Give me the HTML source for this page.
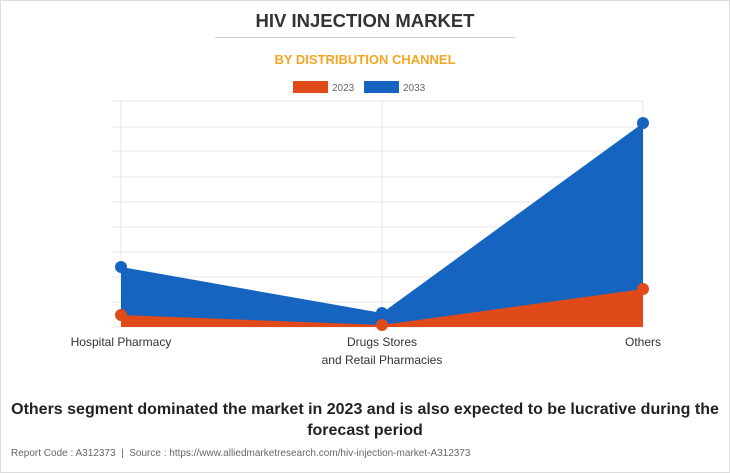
<!DOCTYPE html>
<html><head><meta charset="utf-8"><style>
body{margin:0;width:730px;height:473px;background:#fff;font-family:"Liberation Sans",sans-serif;position:relative;overflow:hidden}
.t{position:absolute;left:0;width:730px;text-align:center}
</style></head><body>
<div style="position:absolute;left:0;top:0;width:728px;height:471px;border:1px solid #ddd"></div>
<div class="t" style="top:10px;font-size:18.5px;font-weight:bold;color:#333">HIV INJECTION MARKET</div>
<div style="position:absolute;left:215px;top:37px;width:300px;height:1px;background:#ccc"></div>
<div class="t" style="top:52px;font-size:13px;font-weight:bold;color:#f5a623">BY DISTRIBUTION CHANNEL</div>
<svg width="730" height="473" style="position:absolute;left:0;top:0">
<rect x="293" y="81" width="35" height="12" fill="#e04a18"/>
<text x="332" y="91" font-size="10" fill="#666" font-family="Liberation Sans">2023</text>
<rect x="364" y="81" width="35" height="12" fill="#1565c0"/>
<text x="403" y="91" font-size="10" fill="#666" font-family="Liberation Sans">2033</text>
<g stroke="#e6e6e6" stroke-width="1">
<line x1="112" y1="101" x2="643" y2="101"/><line x1="112" y1="127" x2="643" y2="127"/>
<line x1="112" y1="151" x2="643" y2="151"/><line x1="112" y1="177" x2="643" y2="177"/>
<line x1="112" y1="202" x2="643" y2="202"/><line x1="112" y1="227" x2="643" y2="227"/>
<line x1="112" y1="252" x2="643" y2="252"/><line x1="112" y1="277" x2="643" y2="277"/>
<line x1="112" y1="302" x2="643" y2="302"/><line x1="112" y1="327" x2="643" y2="327"/>
<line x1="121" y1="101" x2="121" y2="327"/><line x1="382" y1="101" x2="382" y2="327"/><line x1="643" y1="101" x2="643" y2="327"/>
</g>
<polygon points="121,267 382,313 643,123 643,327 121,327" fill="#1565c0"/>
<polygon points="121,315 382,325 643,289 643,327 121,327" fill="#e04a18"/>
<g fill="#1565c0"><circle cx="121" cy="267" r="6"/><circle cx="382" cy="313" r="6"/><circle cx="643" cy="123" r="6"/></g>
<g fill="#e04a18"><circle cx="121" cy="315" r="6"/><circle cx="382" cy="325" r="6"/><circle cx="643" cy="289" r="6"/></g>
<g font-size="12" fill="#333" font-family="Liberation Sans" text-anchor="middle">
<text x="121" y="346">Hospital Pharmacy</text>
<text x="382" y="346">Drugs Stores</text>
<text x="382" y="364">and Retail Pharmacies</text>
<text x="643" y="346">Others</text>
</g>
</svg>
<div class="t" style="top:399px;font-size:16px;font-weight:bold;color:#222;line-height:21px">Others segment dominated the market in 2023 and is also expected to be lucrative during the<br>forecast period</div>
<div style="position:absolute;left:11px;top:448px;font-size:10px;color:#666">Report Code : A312373 &nbsp;|&nbsp; Source : https://www.alliedmarketresearch.com/hiv-injection-market-A312373</div>
</body></html>
